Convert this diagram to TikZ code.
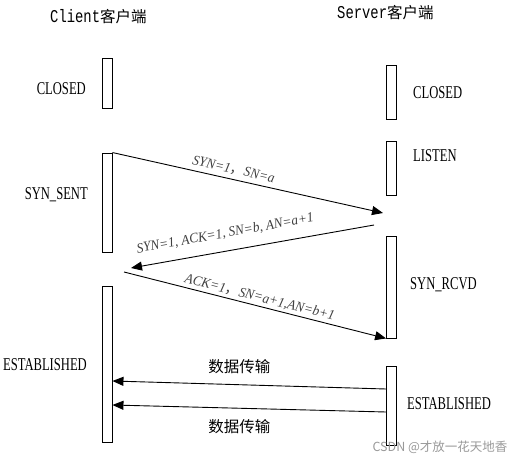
\documentclass[tikz,border=0pt]{standalone}
\usepackage{fontspec}
\setmainfont{Liberation Serif}
\newfontfamily\cjk{Noto Sans CJK SC}
\newfontfamily\hdrfont{Liberation Mono}[FakeStretch=0.77]
\newfontfamily\statefont{Liberation Serif}[FakeStretch=0.7]
\newfontfamily\lblfont{Liberation Serif}[FakeStretch=0.95]
\usetikzlibrary{arrows.meta}
\begin{document}
\begin{tikzpicture}[x=1pt,y=-1pt,
  box/.style={draw, line width=0.9pt, minimum width=10pt, inner sep=0pt, fill=white},
  conn/.style={line width=0.9pt, -{Triangle[length=11pt,width=9pt]}},
  state/.style={inner sep=0pt, font=\statefont\fontsize{18}{18}\selectfont},
  hdr/.style={inner sep=0pt, font=\fontsize{18}{18}\selectfont},
  lbl/.style={inner sep=0pt, text=black!75, font=\lblfont\itshape\fontsize{14}{14}\selectfont},
  datalbl/.style={inner sep=0pt, font=\cjk\fontsize{15.5}{15.5}\selectfont},
  wmark/.style={inner sep=0pt, text=black!40, font=\cjk\fontsize{12.5}{12.5}\selectfont}]
\useasboundingbox (0,0) rectangle (519,462);

% headers
\node[hdr, anchor=base west] (hc) at (50,23) {{\hdrfont Client}{\cjk\fontsize{15.5}{15.5}\selectfont 客户端}};
\node[hdr, anchor=base west] (hs) at (337,19) {{\hdrfont Server}{\cjk\fontsize{15.5}{15.5}\selectfont 客户端}};

% client boxes
\node[box, minimum height=50pt]  (c1) at (107,83) {};
\node[box, minimum height=99pt]  (c2) at (107,202.5) {};
\node[box, minimum height=156pt] (c3) at (107,364) {};
% server boxes
\node[box, minimum height=54pt]  (s1) at (391.5,92) {};
\node[box, minimum height=54pt]  (s2) at (391.5,168) {};
\node[box, minimum height=102pt] (s3) at (391.5,287) {};
\node[box, minimum height=79pt]  (s4) at (391.5,405.5) {};

% states
\node[state, anchor=base east] (tc1) at (86,95) {CLOSED};
\node[state, anchor=base east] (tc2) at (88,200) {SYN\_SENT};
\node[state, anchor=base east] (tc3) at (87,370) {ESTABLISHED};
\node[state, anchor=base west] (ts1) at (413,99) {CLOSED};
\node[state, anchor=base west] (ts2) at (413,162) {LISTEN};
\node[state, anchor=base west] (ts3) at (410,289) {SYN\_RCVD};
\node[state, anchor=base west] (ts4) at (407,409) {ESTABLISHED};

% free ends
\coordinate (a1e) at (383,213);
\coordinate (a2s) at (374,225);
\coordinate (a2e) at (131,268);
\coordinate (a3s) at (124,272);

\draw[conn] (c2.north east) -- node[lbl, sloped, above=4pt, pos=0.44] (l1) {SYN=1{\cjk\upshape ，}SN=a} (a1e);
\draw[conn] (a2s) -- node[lbl, sloped, above=11pt, pos=0.6] (l2) {SYN=1, ACK=1, SN=b, AN=a+1} (a2e);
\draw[conn] (a3s) -- node[lbl, sloped, above=2pt, pos=0.51] (l3) {ACK=1{\cjk\upshape ，}SN=a+1,AN=b+1} (s3.south west);

\draw[conn] ([yshift=16.5pt]s4.west) -- node[datalbl, above=10pt, pos=0.536] (l4) {数据传输} ([yshift=-17pt]c3.east);
\draw[conn] ([yshift=-6.5pt]s4.west) -- node[datalbl, below=11pt, pos=0.536] (l5) {数据传输} ([yshift=-41pt]c3.east);

\node[wmark] (wm) at (440,447) {CSDN @才放一花天地香};
\end{tikzpicture}
\end{document}
